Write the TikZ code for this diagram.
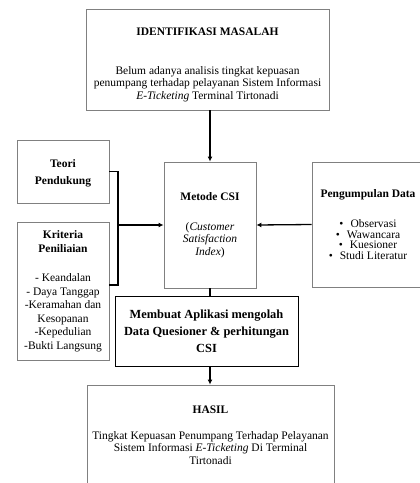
\documentclass[tikz,border=0pt]{standalone}
\usepackage{fontspec}
\setmainfont{Liberation Serif}
\usetikzlibrary{positioning, arrows.meta}

\begin{document}
\begin{tikzpicture}[x=1pt, y=-1pt,
    box/.style={draw=black!50, line width=0.9pt, align=center, inner sep=0pt,
        font=\fontsize{11.5}{12.5}\selectfont},
    conn/.style={line width=1.3pt},
    arr/.style={conn, -{Latex[length=5pt,width=5pt]}}]
    \useasboundingbox (0,0) rectangle (420,483);
    \clip (0,0) rectangle (420,483);

    % Define nodes
    \node[box, minimum width=243pt, minimum height=101pt] (M) at (207.5,59.5)
        {\rule{0pt}{18pt}\textbf{IDENTIFIKASI MASALAH}\\[26pt]
         Belum adanya analisis tingkat kepuasan\\
         penumpang terhadap pelayanan Sistem Informasi\\
         \textit{E-Ticketing} Terminal Tirtonadi};
    \node[box, minimum width=92pt, minimum height=126pt] (C) at (210,225)
        {\textbf{Metode CSI}\\[17pt]
         (\textit{Customer}\\\textit{Satisfaction}\\\textit{Index})};
    \node[box, minimum width=92pt, minimum height=63pt] (T) at (63,171.5)
        {\rule{0pt}{12pt}\textbf{Teori}\\[4pt]\textbf{Pendukung}};
    \node[box, minimum width=92pt, minimum height=138pt,
        font=\fontsize{11.5}{13.5}\selectfont] (K) at (63,291)
        {\textbf{Kriteria}\\\textbf{Peniliaian}\\[16pt]
         - Keandalan\\- Daya Tanggap\\-Keramahan dan\\Kesopanan\\
         -Kepedulian\\-Bukti Langsung};
    \node[box, minimum width=112pt, minimum height=125pt,
        font=\fontsize{11.5}{10.5}\selectfont] (P) at (368,224.5)
        {\textbf{Pengumpulan Data}\\[19pt]
         \textbullet\hspace{7pt}Observasi\\
         \textbullet\hspace{7pt}Wawancara\\
         \textbullet\hspace{7pt}Kuesioner\\
         \textbullet\hspace{7pt}Studi Literatur};
    \node[box, draw=black, minimum width=183pt, minimum height=70pt,
        font=\fontsize{12.4}{17}\selectfont\bfseries] (A) at (206.5,331)
        {Membuat Aplikasi mengolah\\Data Quesioner \& perhitungan\\CSI};
    \node[box, minimum width=247pt, minimum height=100pt] (H) at (210.5,435)
        {\textbf{HASIL}\\[13pt]
         Tingkat Kepuasan Penumpang Terhadap Pelayanan\\
         Sistem Informasi \textit{E-Ticketing} Di Terminal\\
         Tirtonadi};
    \coordinate (J) at (118,225);

    % Draw arrows
    \draw[arr] (C.north |- M.south) -- (C.north);
    \draw[conn] (T.east) -| (J) |- ([yshift=6pt]K.east);
    \draw[arr] (J) -- (C.west);
    \draw[arr] (P.west) -- (C.east);
    \draw[conn] (C.south) -- (C.south |- A.north);
    \draw[arr] (C.south |- A.south) -- (C.south |- H.north);
\end{tikzpicture}
\end{document}
